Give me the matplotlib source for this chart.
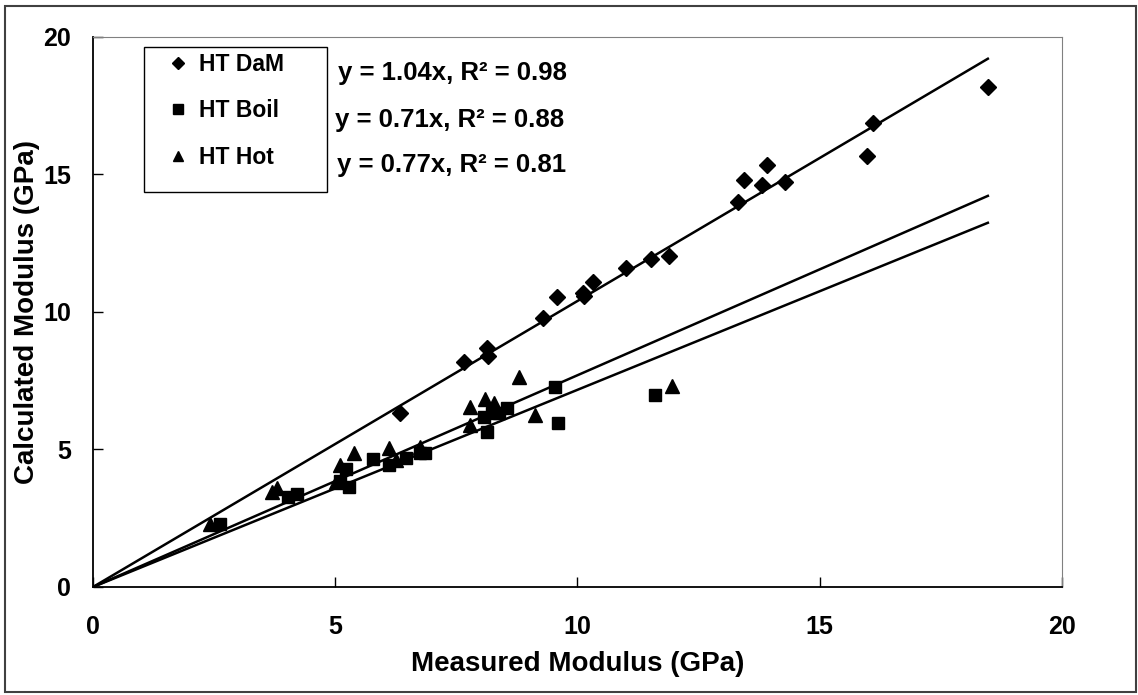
import matplotlib
matplotlib.use('Agg')
import matplotlib.pyplot as plt
import matplotlib.patches as mpatches
import numpy as np

plt.rcParams['font.family'] = ['Liberation Sans', 'DejaVu Sans']
plt.rcParams['font.weight'] = 'bold'

# HT DaM
dam_x = [6.34, 7.66, 8.13, 8.15, 9.29, 9.58, 10.11, 10.13, 10.32, 11.0,
         11.52, 11.89, 13.31, 13.44, 13.8, 13.91, 14.28, 15.98, 16.1, 18.47]
dam_y = [6.33, 8.18, 8.69, 8.4, 9.78, 10.55, 10.69, 10.58, 11.09, 11.6,
         11.93, 12.04, 14.0, 14.8, 14.62, 15.35, 14.73, 15.67, 16.87, 18.18]

# HT Boil
boil_x = [2.62, 4.02, 4.21, 5.1, 5.23, 5.29, 5.77, 6.12, 6.46, 6.74,
          6.85, 8.07, 8.13, 8.23, 8.37, 8.54, 9.53, 9.59, 11.59]
boil_y = [2.29, 3.27, 3.38, 3.85, 4.28, 3.64, 4.65, 4.44, 4.69, 4.87,
          4.87, 6.18, 5.64, 6.33, 6.33, 6.51, 7.27, 5.96, 6.98]

# HT Hot
hot_x = [2.41, 3.69, 3.79, 5.02, 5.1, 5.39, 6.1, 6.26, 6.74, 7.78,
         7.78, 8.1, 8.27, 8.79, 9.13, 11.96]
hot_y = [2.29, 3.46, 3.6, 3.82, 4.44, 4.87, 5.05, 4.6, 5.1, 6.55,
         5.89, 6.84, 6.69, 7.64, 6.25, 7.31]

# trendline slopes (through origin), drawn to x max
slope_dam = 1.04
slope_hot = 0.77
slope_boil = 0.717
x_end = 18.47

eq_labels = ['y = 1.04x, R\u00b2 = 0.98', 'y = 0.71x, R\u00b2 = 0.88', 'y = 0.77x, R\u00b2 = 0.81']

fig = plt.figure(figsize=(11.38, 6.95), dpi=100)
ax = fig.add_axes([0.0817, 0.1554, 0.8515, 0.7914])

ax.plot(dam_x, dam_y, linestyle='none', marker='D', markersize=8.5, color='black', label='HT DaM')
ax.plot(boil_x, boil_y, linestyle='none', marker='s', markersize=9, color='black', label='HT Boil')
ax.plot(hot_x, hot_y, linestyle='none', marker='^', markersize=10, color='black', label='HT Hot')

xl = np.array([0, x_end])
for s in [slope_dam, slope_hot, slope_boil]:
    ax.plot(xl, s * xl, color='black', linewidth=1.8)

ax.set_xlim(0, 20)
ax.set_ylim(0, 20)
ax.set_xticks([0, 5, 10, 15, 20])
ax.set_yticks([0, 5, 10, 15, 20])
ax.tick_params(direction='in', length=7, width=1, labelsize=18)
ax.tick_params(axis='x', pad=20)
ax.tick_params(axis='y', pad=16)
for lab in ax.get_xticklabels() + ax.get_yticklabels():
    lab.set_fontweight('bold')

ax.set_xlabel('Measured Modulus (GPa)', fontsize=20, fontweight='bold', labelpad=9)
ax.set_ylabel('Calculated Modulus (GPa)', fontsize=20, fontweight='bold', labelpad=2)

ax.spines['left'].set_color('black')
ax.spines['bottom'].set_color('black')
ax.spines['left'].set_linewidth(1.3)
ax.spines['bottom'].set_linewidth(1.3)
ax.spines['top'].set_color('#808080')
ax.spines['right'].set_color('#808080')

eq_pos = [(0.253, 0.935), (0.250, 0.849), (0.252, 0.767)]
for (px, py), txt in zip(eq_pos, eq_labels):
    ax.text(px, py, txt, transform=ax.transAxes, fontsize=18.5, fontweight='bold',
            va='center', ha='left')

# legend box (Excel style, extra room at bottom)
ax.add_patch(mpatches.Rectangle((0.0526, 0.718), 0.1889, 0.264, transform=ax.transAxes,
                                fill=False, edgecolor='black', linewidth=1.0, zorder=5))
leg = ax.legend(loc='upper left', bbox_to_anchor=(0.066, 0.984), frameon=False,
                markerscale=0.75, handlelength=1.2, handletextpad=0.35, labelspacing=1.04,
                borderpad=0.3, borderaxespad=0, prop={'weight': 'bold', 'size': 16.5})

fig.patches.append(mpatches.Rectangle((0.004, 0.004), 0.994, 0.988, transform=fig.transFigure,
                                      fill=False, edgecolor='#404040', linewidth=1.5))

fig.savefig('out.png', dpi=100)
